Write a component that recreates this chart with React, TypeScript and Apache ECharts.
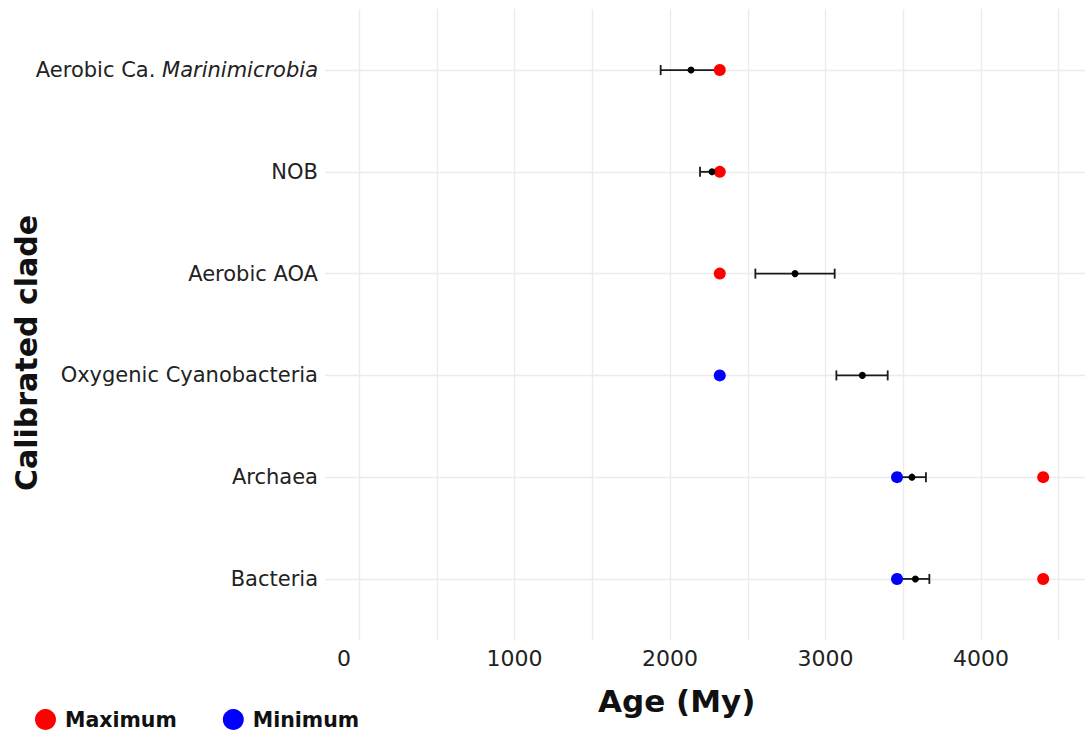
import React, { useEffect, useRef } from "react";
import * as echarts from "echarts";

const categories = [
  "Aerobic Ca. Marinimicrobia",
  "NOB",
  "Aerobic AOA",
  "Oxygenic Cyanobacteria",
  "Archaea",
  "Bacteria",
];
const maxAge: (number | null)[] = [2320, 2320, 2320, null, 4400, 4400];
const minAge: (number | null)[] = [null, null, null, 2320, 3460, 3460];
const estMid = [2135, 2270, 2804, 3237, 3556, 3578];
const estLow = [1940, 2193, 2549, 3070, 3480, 3480];
const estHigh = [2320, 2320, 3059, 3400, 3646, 3668];
const xLabelTicks = [0, 1000, 2000, 3000, 4000];
const xGridTicks = [0, 500, 1000, 1500, 2000, 2500, 3000, 3500, 4000, 4500];

const FONT = "DejaVu Sans";

export default function App() {
  const ref = useRef<HTMLDivElement>(null);
  useEffect(() => {
    if (!ref.current) return;
    const chart = echarts.init(ref.current, null, { renderer: "svg" });
    const idx = categories.map((_, i) => i);
    const maxData = idx.filter((i) => maxAge[i] != null).map((i) => [maxAge[i], i]);
    const minData = idx.filter((i) => minAge[i] != null).map((i) => [minAge[i], i]);
    const barData = idx.map((i) => [estLow[i], estHigh[i], i]);
    const midData = idx.map((i) => [estMid[i], i]);

    chart.setOption({
      animation: false,
      grid: { left: 325, right: 2, top: 9, bottom: 98, containLabel: false },
      xAxis: {
        type: "value",
        min: -219,
        max: 4669,
        axisLine: { show: false },
        axisTick: { show: false, customValues: xGridTicks },
        splitLine: { show: true, lineStyle: { color: "#ebebeb", width: 1.3 } },
        axisLabel: {
          customValues: xLabelTicks,
          color: "#222",
          fontFamily: FONT,
          fontSize: 22,
          margin: 7,
          formatter: (v: number) => (v === 0 ? "{z|0}" : String(v)),
          rich: { z: { padding: [0, 30, 0, 0], fontSize: 22, fontFamily: FONT, color: "#222" } },
        },
      },
      yAxis: {
        type: "value",
        min: -0.6,
        max: 5.6,
        inverse: true,
        axisLine: { show: false },
        axisTick: { show: false, customValues: idx },
        splitLine: { show: true, lineStyle: { color: "#ebebeb", width: 1.3 } },
        axisLabel: {
          customValues: idx,
          color: "#222",
          fontFamily: FONT,
          fontSize: 21,
          margin: 7,
          formatter: (v: number) => {
            const name = categories[Math.round(v)] || "";
            if (name.startsWith("Aerobic Ca. ")) {
              return "{n|Aerobic Ca. }{i|" + name.slice(12) + "}";
            }
            return name;
          },
          rich: {
            n: { fontFamily: FONT, fontSize: 21, color: "#222" },
            i: { fontFamily: FONT, fontSize: 21, color: "#222", fontStyle: "italic" },
          },
        },
      },
      legend: {
        left: 30,
        top: 704,
        icon: "circle",
        itemWidth: 21,
        itemHeight: 21,
        itemGap: 46,
        data: ["Maximum", "Minimum"],
        textStyle: { fontFamily: FONT, fontWeight: "bold", fontSize: 20.5, color: "#111", padding: [0, 0, 0, 4] },
      },
      graphic: [
        {
          type: "text",
          left: 598,
          top: 685,
          style: { text: "Age (My)", font: "bold 31px 'DejaVu Sans'", fill: "#111" },
        },
        {
          type: "text",
          x: 11,
          y: 491,
          rotation: Math.PI / 2,
          style: { text: "Calibrated clade", font: "bold 30px 'DejaVu Sans'", fill: "#111" },
        },
      ],
      series: [
        {
          name: "Maximum",
          type: "scatter",
          data: maxData,
          symbolSize: 12,
          itemStyle: { color: "#ff0000", opacity: 1 },
        },
        {
          name: "Minimum",
          type: "scatter",
          data: minData,
          symbolSize: 12,
          itemStyle: { color: "#0000ff", opacity: 1 },
        },
        {
          name: "range",
          type: "custom",
          data: barData,
          encode: { x: [0, 1], y: 2 },
          renderItem: (params: any, api: any) => {
            const lo = api.coord([api.value(0), api.value(2)]);
            const hi = api.coord([api.value(1), api.value(2)]);
            const h = 5;
            const style = { stroke: "#1a1a1a", lineWidth: 1.8 };
            return {
              type: "group",
              children: [
                { type: "line", shape: { x1: lo[0], y1: lo[1], x2: hi[0], y2: hi[1] }, style },
                { type: "line", shape: { x1: lo[0], y1: lo[1] - h, x2: lo[0], y2: lo[1] + h }, style },
                { type: "line", shape: { x1: hi[0], y1: hi[1] - h, x2: hi[0], y2: hi[1] + h }, style },
              ],
            };
          },
        },
        {
          name: "estimate",
          type: "scatter",
          data: midData,
          symbolSize: 7,
          itemStyle: { color: "#000", opacity: 1 },
        },
      ],
    });
    return () => chart.dispose();
  }, []);
  return (
    <div
      ref={ref}
      style={{ position: "absolute", left: 0, top: 0, width: 1087, height: 738, background: "#fff" }}
    />
  );
}
